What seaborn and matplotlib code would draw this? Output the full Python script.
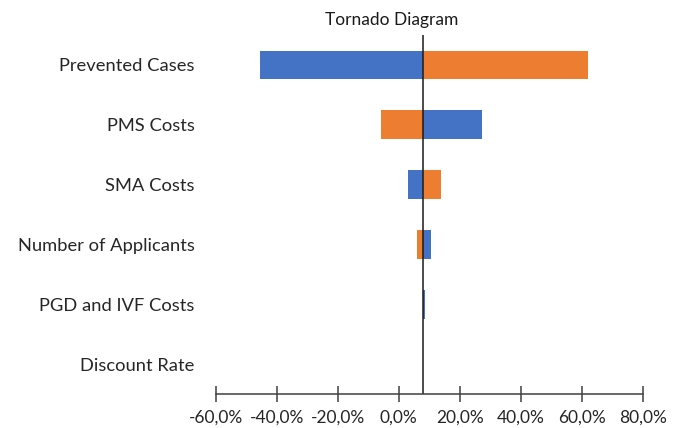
import matplotlib
matplotlib.use("Agg")
import matplotlib.pyplot as plt
import seaborn as sns
import numpy as np
from matplotlib.ticker import FuncFormatter

# Sensitivity results (% change) for each parameter at its low and high input
parameters = ["Prevented Cases", "PMS Costs", "SMA Costs",
              "Number of Applicants", "PGD and IVF Costs", "Discount Rate"]
base_value = 8.1
low_input = [-45.6, 27.3, 2.9, 10.4, 8.6, 8.1]
high_input = [61.9, -5.9, 14.0, 6.1, 8.1, 8.1]
x_ticks = [-60, -40, -20, 0, 20, 40, 60, 80]

sns.set_theme(style="white")
plt.rcParams["font.family"] = ["Lato", "DejaVu Sans"]

fig = plt.figure(figsize=(6.8, 4.28), dpi=100)
ax = fig.add_axes([0.317, 0.0794, 0.6286, 0.8388])

y = np.arange(len(parameters))
blue = "#4472C4"
orange = "#ED7D31"
ax.barh(y, np.array(low_input) - base_value, left=base_value, height=0.48,
        color=blue, edgecolor="none")
ax.barh(y, np.array(high_input) - base_value, left=base_value, height=0.48,
        color=orange, edgecolor="none")

ax.set_ylim(len(parameters) - 0.5, -0.5)
ax.set_xlim(x_ticks[0], x_ticks[-1])
ax.set_yticks(y)
ax.set_yticklabels(parameters, fontsize=13.2, color="#262626")
ax.tick_params(axis="y", length=0, pad=15)

ax.set_xticks(x_ticks)
ax.xaxis.set_major_formatter(FuncFormatter(lambda v, _: f"{v:.1f}%".replace(".", ",")))
ax.tick_params(axis="x", direction="inout", length=11, width=1.1, color="#404040",
               labelsize=12.5, labelcolor="#262626", pad=6, bottom=True)

for side in ("top", "right", "left"):
    ax.spines[side].set_visible(False)
ax.spines["bottom"].set_color("#404040")
ax.spines["bottom"].set_linewidth(1.1)

ax.axvline(base_value, color="#1a1a1a", linewidth=1.1)

fig.text(392 / 680, 1 - 20 / 428, "Tornado Diagram", ha="center", va="center",
         fontsize=12.5, color="#1a1a1a")

fig.savefig("out.png", dpi=100)
